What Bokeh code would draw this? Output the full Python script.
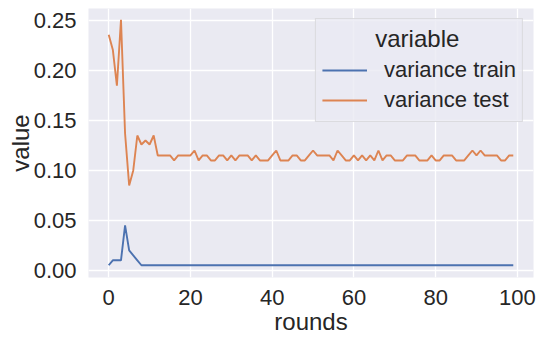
from bokeh.plotting import figure
from bokeh.models import Legend, LegendItem, FixedTicker, Range1d, NumeralTickFormatter, ColumnDataSource
from bokeh.embed import file_html
from bokeh.resources import INLINE

rounds = list(range(100))
variance_train = [0.005, 0.01, 0.01, 0.01, 0.045, 0.02, 0.015, 0.01] + [0.005] * 92
variance_test = [
    0.236, 0.221, 0.185, 0.251, 0.137, 0.085, 0.100, 0.135, 0.126, 0.130,
    0.126, 0.135, 0.115, 0.115, 0.115, 0.115, 0.110, 0.115, 0.115, 0.115,
    0.115, 0.120, 0.110, 0.115, 0.115, 0.110, 0.110, 0.115, 0.115, 0.110,
    0.115, 0.110, 0.115, 0.115, 0.115, 0.110, 0.115, 0.110, 0.110, 0.110,
    0.115, 0.120, 0.110, 0.110, 0.110, 0.115, 0.115, 0.110, 0.110, 0.115,
    0.120, 0.115, 0.115, 0.115, 0.115, 0.110, 0.120, 0.115, 0.110, 0.110,
    0.115, 0.110, 0.115, 0.110, 0.115, 0.110, 0.120, 0.110, 0.115, 0.115,
    0.110, 0.110, 0.110, 0.115, 0.115, 0.115, 0.110, 0.110, 0.110, 0.115,
    0.110, 0.110, 0.115, 0.115, 0.115, 0.110, 0.110, 0.110, 0.115, 0.120,
    0.115, 0.120, 0.115, 0.115, 0.115, 0.115, 0.110, 0.110, 0.115, 0.115,
]
x_ticks = [0, 20, 40, 60, 80, 100]
y_ticks = [0.00, 0.05, 0.10, 0.15, 0.20, 0.25]
series_names = ["variance train", "variance test"]
series_colors = ["#4c72b0", "#dd8452"]
legend_title = "variable"

FONT = "Liberation Sans"
TEXT = "#262626"

p = figure(frame_width=445, frame_height=269, output_backend="svg", toolbar_location=None,
           x_range=Range1d(-4.95, 103.95), y_range=Range1d(-0.00725, 0.26225),
           min_border_left=88, min_border_right=8, min_border_top=8, min_border_bottom=64)
p.background_fill_color = "#eaeaf2"
p.border_fill_color = "white"
p.outline_line_color = None

src = ColumnDataSource(dict(x=rounds, train=variance_train, test=variance_test))
r1 = p.line("x", "train", source=src, line_color=series_colors[0], line_width=1.9)
r2 = p.line("x", "test", source=src, line_color=series_colors[1], line_width=1.9)

for ax in (p.xaxis[0], p.yaxis[0]):
    ax.axis_line_color = None
    ax.major_tick_line_color = None
    ax.minor_tick_line_color = None
    ax.major_label_text_font = FONT
    ax.major_label_text_font_size = "22px"
    ax.major_label_text_color = TEXT
    ax.axis_label_text_font = FONT
    ax.axis_label_text_font_size = "24px"
    ax.axis_label_text_font_style = "normal"
    ax.axis_label_text_color = TEXT

p.xaxis.major_label_standoff = 6
p.xaxis.axis_label_standoff = 0
p.yaxis.major_label_standoff = 6
p.yaxis.axis_label_standoff = -3

p.xaxis.ticker = FixedTicker(ticks=x_ticks)
p.yaxis.ticker = FixedTicker(ticks=y_ticks)
p.yaxis.formatter = NumeralTickFormatter(format="0.00")
p.xaxis.axis_label = "rounds"
p.yaxis.axis_label = "value"

p.xgrid.grid_line_color = "white"
p.ygrid.grid_line_color = "white"
p.xgrid.grid_line_width = 1.3
p.ygrid.grid_line_width = 1.3

legend = Legend(items=[LegendItem(label=series_names[0], renderers=[r1]),
                       LegendItem(label=series_names[1], renderers=[r2])],
                location="top_right", title=" " * 8 + legend_title)
legend.title_text_font = FONT
legend.title_text_font_size = "24px"
legend.title_text_font_style = "normal"
legend.title_text_color = TEXT
legend.label_text_font = FONT
legend.label_text_font_size = "22px"
legend.label_text_color = TEXT
legend.glyph_width = 45
legend.glyph_height = 30
legend.label_height = 30
legend.label_standoff = 17
legend.spacing = 0
legend.padding = 6
legend.margin = 10
legend.background_fill_color = "#eaeaf2"
legend.background_fill_alpha = 0.8
legend.border_line_color = "#cccccc"
legend.border_line_width = 1
legend.title_standoff = 2
p.add_layout(legend)

open("out.html", "w").write(file_html(p, INLINE))
